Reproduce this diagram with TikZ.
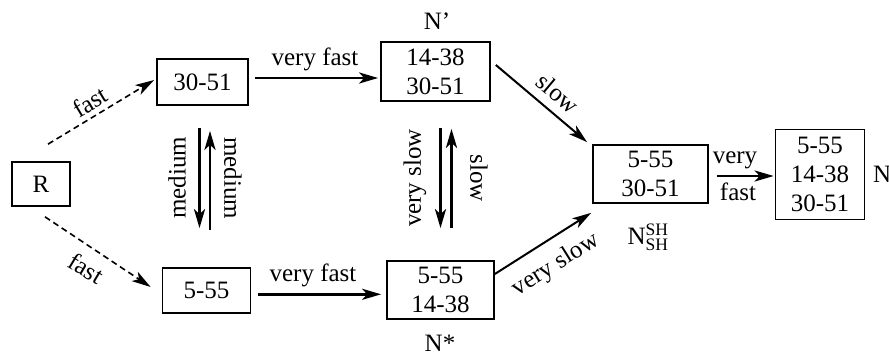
\documentclass[tikz,border=0pt]{standalone}
\usepackage{fontspec}
\setmainfont{Liberation Serif}
\usetikzlibrary{arrows.meta,calc}
\begin{document}
\begin{tikzpicture}[x=1pt,y=-1pt,
  every node/.style={font=\fontsize{25}{29}\selectfont},
  box/.style={draw,line width=1.7pt,inner sep=0pt,align=center},
  tip/.style={-{Stealth[length=19pt,width=11pt,inset=5pt]}},
  arr/.style={tip,line width=2.8pt},
  darr/.style={tip,line width=1.6pt,dash pattern=on 6pt off 4pt},
  tarr/.style={tip,line width=2pt},
  lbl/.style={inner sep=0pt}]
\useasboundingbox (0,0) rectangle (889,355);
% boxes
\node[box,minimum width=58pt,minimum height=44pt] (R) at (41,184) {R};
\node[box,minimum width=91pt,minimum height=46pt] (A) at (202.5,82) {30-51};
\node[box,minimum width=88pt,minimum height=45pt] (B) at (206.5,290.5) {5-55};
\node[box,minimum width=109pt,minimum height=59pt] (Np) at (435.5,71.5) {14-38\\30-51};
\node[box,minimum width=107pt,minimum height=58pt] (Ns) at (440.5,290) {5-55\\14-38};
\node[box,minimum width=115pt,minimum height=58pt] (Nsh) at (650.5,174) {5-55\\30-51};
\node[box,minimum width=89pt,minimum height=90pt] (Nf) at (820,174.5) {5-55\\14-38\\30-51};
% state labels
\node[lbl] (lNp) at (437,21) {N\char39};
\node[lbl] (lNs) at (440,343) {N*};
\node[lbl] (lNsh) at (648,237) {N$^{\mathrm{SH}}_{\mathrm{SH}}$};
\node[lbl,anchor=west] (lNf) at (873,174) {N};
% dashed arrows from R
\draw[darr] ($(R.north)+(7,-17)$) -- ($(A.west)+(-2,-2)$);
\draw[darr] ($(R.south)+(4,10)$) -- ($(B.west)+(-11,-3.5)$);
\node[lbl,rotate=31] (lf1) at (90,102) {fast};
\node[lbl,rotate=-31] (lf2) at (86,268) {fast};
% horizontal very fast arrows
\draw[arr] ($(A.east)+(6,-4)$) -- ($(Np.west)+(-2,6.5)$);
\node[lbl] (lvf1) at (315,59) {very fast};
\draw[arr] ($(B.east)+(7,3.8)$) -- ($(Ns.west)+(-5,4.3)$);
\node[lbl] (lvf2) at (313,275) {very fast};
% medium arrows
\draw[arr] ($(A.south)+(-3,22)$) -- ($(B.north)+(-7,-39)$);
\draw[arr] ($(B.north)+(3.5,-37)$) -- ($(A.south)+(7.5,25)$);
\node[lbl,rotate=90] (lm1) at (177,178) {medium};
\node[lbl,rotate=-90] (lm2) at (233,178) {medium};
% very slow / slow vertical arrows
\draw[arr] ($(Np.south)+(5,26)$) -- ($(Ns.north)+(0,-32)$);
\draw[arr] ($(Ns.north)+(11,-32)$) -- ($(Np.south)+(16,27)$);
\node[lbl,rotate=90] (lvs1) at (415,178) {very slow};
\node[lbl,rotate=-90] (ls1) at (479,178) {slow};
% diagonal arrows to Nsh
\draw[tarr] ($(Np.east)+(5,-6.5)$) -- ($(Nsh.north west)+(-5,-2)$);
\node[lbl,rotate=-40] (ls2) at (558,93) {slow};
\draw[tarr] ($(Ns.east)+(0,-16)$) -- ($(Nsh.south west)+(-1,9)$);
\node[lbl,rotate=32] (lvs2) at (556,265) {very slow};
% final arrow
\draw[arr] ($(Nsh.east)+(8,2)$) -- ($(Nf.west)+(-1,1.5)$);
\node[lbl] (lv3) at (735,160) {very};
\node[lbl] (lf3) at (738,192) {fast};
\end{tikzpicture}
\end{document}
